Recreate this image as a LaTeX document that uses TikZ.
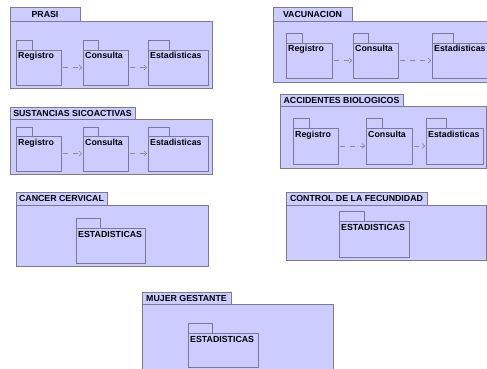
\documentclass[tikz,border=0pt]{standalone}
\usepackage{fontspec}
\setmainfont{Liberation Sans}
\usetikzlibrary{arrows.meta}
\definecolor{pkgfill}{HTML}{CCCCFF}
\definecolor{pkgline}{HTML}{7A7A96}
\definecolor{depline}{HTML}{8A8A9A}
\tikzset{
  pkg/.style={draw=pkgline, fill=pkgfill, line width=0.9pt, inner sep=0pt, outer sep=0pt,
    anchor=north west, font=\fontsize{8.8}{10}\selectfont\bfseries},
  pkglabel/.style={font=\fontsize{8.8}{10}\selectfont\bfseries, inner sep=0pt, anchor=base west},
  dep/.style={draw=depline, line width=0.7pt, dash pattern=on 5pt off 5pt,
    shorten <=2pt, shorten >=1pt, -{Straight Barb[length=2.5pt,width=5pt]}},
}
% a plain rectangle node: [text] name, left, top, right, bottom
\newcommand\umlbox[6][]{%
  \node[pkg, minimum width={(#5)-(#3)}, minimum height={(#6)-(#4)}] (#2) at (#3,#4) {#1};}
% package with its name inside the tab: name, left, tab top, tab right, body top, right, bottom, text
\newcommand\container[8]{%
  \umlbox{#1}{#2}{#5}{#6}{#7}%
  \umlbox[#8]{#1-tab}{#2}{#3}{#4}{#5}}
% package with its name inside the body
\newcommand\innerpkg[8]{%
  \umlbox{#1-tab}{#2}{#3}{#4}{#5}%
  \umlbox{#1}{#2}{#5}{#6}{#7}%
  \node[pkglabel] (#1-label) at ([shift={(2,9)}]#1.north west) {#8};}
\begin{document}
\begin{tikzpicture}[x=1pt, y=-1pt]
\useasboundingbox (0,0) rectangle (487,369);
\clip (0,0) rectangle (487,369);

% PRASI
\container{prasi}{10}{7}{80}{21}{212}{88}{PRASI}
\innerpkg{prasi-reg}{16}{40}{32}{50}{61}{85}{Registro}
\innerpkg{prasi-con}{83}{40}{98}{50}{128}{85}{Consulta}
\innerpkg{prasi-est}{148}{40}{169}{50}{208}{85}{Estadisticas}
\draw[dep] (prasi-reg) -- (prasi-con);
\draw[dep] (prasi-con) -- (prasi-est);

% VACUNACION
\container{vac}{273}{7}{352}{21}{500}{82}{VACUNACION}
\innerpkg{vac-reg}{286}{33}{302}{43}{332}{78}{Registro}
\innerpkg{vac-con}{353}{33}{368}{43}{398}{78}{Consulta}
\innerpkg{vac-est}{432}{33}{453}{43}{494}{78}{Estadisticas}
\draw[dep] (vac-reg) -- (vac-con);
\draw[dep] (vac-con.east) -- (vac-est.west);

% SUSTANCIAS SICOACTIVAS
\container{sus}{10}{107}{135}{119}{212}{174}{SUSTANCIAS SICOACTIVAS}
\innerpkg{sus-reg}{16}{127}{32}{136}{61}{171}{Registro}
\innerpkg{sus-con}{83}{127}{98}{136}{128}{171}{Consulta}
\innerpkg{sus-est}{148}{127}{169}{136}{208}{171}{Estadisticas}
\draw[dep] (sus-reg) -- (sus-con);
\draw[dep] (sus-con) -- (sus-est);

% ACCIDENTES BIOLOGICOS
\container{acc}{280}{94}{403}{106}{486}{168}{ACCIDENTES BIOLOGICOS}
\innerpkg{acc-reg}{293}{118}{309}{128}{338}{164}{Registro}
\innerpkg{acc-con}{366}{118}{382}{128}{412}{164}{Consulta}
\innerpkg{acc-est}{426}{118}{446}{128}{483}{164}{Estadisticas}
\draw[dep] (acc-reg) -- (acc-con);
\draw[dep] (acc-con) -- (acc-est);

% CANCER CERVICAL
\container{can}{16}{192}{107}{205}{208}{266}{CANCER CERVICAL}
\innerpkg{can-est}{76}{218}{100}{228}{145}{263}{ESTADISTICAS}

% CONTROL DE LA FECUNDIDAD
\container{ctl}{286}{192}{427}{205}{486}{260}{CONTROL DE LA FECUNDIDAD}
\innerpkg{ctl-est}{339}{211}{364}{221}{409}{257}{ESTADISTICAS}

% MUJER GESTANTE
\container{muj}{142}{292}{231}{304}{333}{380}{MUJER GESTANTE}
\innerpkg{muj-est}{188}{323}{212}{333}{258}{367}{ESTADISTICAS}
\end{tikzpicture}
\end{document}
